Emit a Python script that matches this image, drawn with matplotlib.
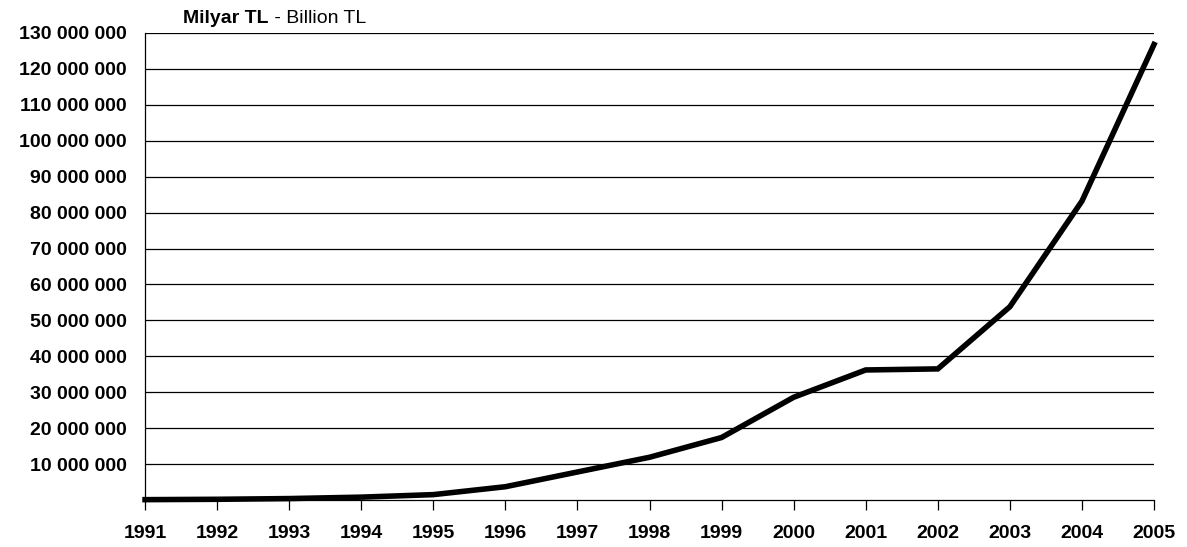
import matplotlib.pyplot as plt
from matplotlib.ticker import FuncFormatter

# Milyar TL (billion TL)
years = [1991, 1992, 1993, 1994, 1995, 1996, 1997, 1998,
         1999, 2000, 2001, 2002, 2003, 2004, 2005]
values = [0.1e6, 0.2e6, 0.4e6, 0.8e6, 1.5e6, 3.7e6, 7.8e6, 11.9e6,
          17.4e6, 28.6e6, 36.2e6, 36.5e6, 53.8e6, 83.2e6, 126.8e6]
y_ticks = list(range(10_000_000, 130_000_001, 10_000_000))

plt.rcParams['font.family'] = ['Liberation Sans', 'DejaVu Sans']

fig = plt.figure(figsize=(11.87, 5.47), dpi=100)
ax = fig.add_axes([0.1222, 0.0859, 0.85, 0.8538])

ax.plot(years, values, color="black", linewidth=4, solid_joinstyle="miter",
        clip_on=False, zorder=3)

ax.set_xlim(1991, 2005)
ax.set_ylim(0, 130_000_000)
ax.set_yticks(y_ticks)
ax.yaxis.set_major_formatter(
    FuncFormatter(lambda v, p: f"{int(v):,}".replace(",", " ")))
ax.set_xticks(years)
ax.grid(axis="y", color="black", linewidth=0.9)
ax.set_axisbelow(True)

for s in ("top", "right"):
    ax.spines[s].set_visible(False)
ax.spines["left"].set_linewidth(0.9)
ax.spines["bottom"].set_linewidth(0.9)

ax.tick_params(axis="y", length=0, pad=13, labelsize=14)
ax.tick_params(axis="x", direction="out", length=7, width=0.9,
               pad=11, labelsize=14)
for lbl in ax.get_xticklabels() + ax.get_yticklabels():
    lbl.set_fontweight("bold")

ax.text(0.0377, 1.012, "Milyar TL", transform=ax.transAxes, fontsize=14,
        fontweight="bold", ha="left", va="bottom")
ax.annotate(" - Billion TL", xy=(1, 0), xycoords=ax.texts[-1],
            fontsize=14, ha="left", va="bottom")

fig.savefig("out.png", dpi=100)
